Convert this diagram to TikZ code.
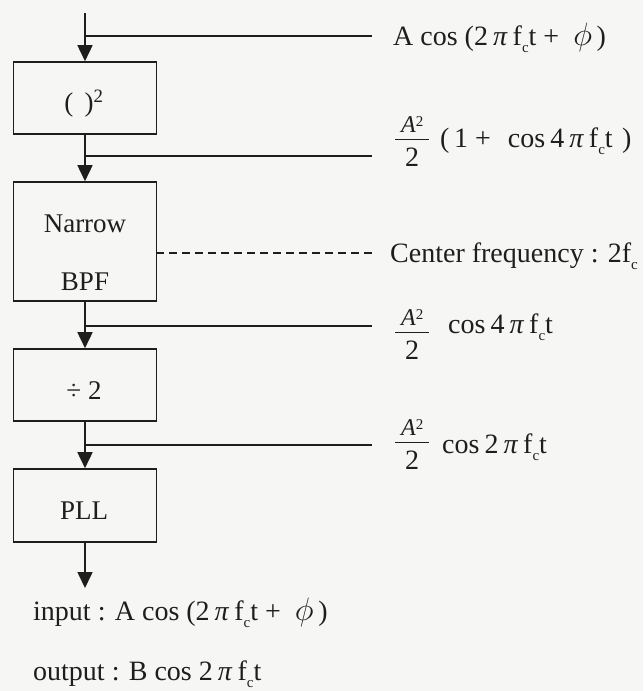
\documentclass[tikz,border=0pt]{standalone}
\usepackage{fontspec}
\setmainfont{Liberation Serif}
\usetikzlibrary{arrows.meta}

\definecolor{paper}{RGB}{246,246,244}
\definecolor{ink}{RGB}{30,30,30}

% symbols used in the signal labels
\newcommand\tsp{\hspace{5pt}}
\newcommand\gpi{\textit{π}}
\newcommand\gphi{\scalebox{1.3}{$\phi$}}
\newcommand\fcsub{f\raisebox{-0.55ex}{\fontsize{15}{15}\selectfont c}}
% A^2 / 2 ; the argument is the height of the bar above the baseline
\newcommand\fracA[1]{\raisebox{#1}{%
  \rlap{\raisebox{7pt}{\makebox[34pt]{\fontsize{24}{24}\selectfont\textit{A}\raisebox{6pt}{\fontsize{15}{15}\selectfont 2}}}}%
  \rlap{\raisebox{-0.5pt}{\rule{34pt}{1pt}}}%
  \raisebox{-27pt}{\makebox[34pt]{2}}}}

\begin{document}
\begin{tikzpicture}[x=1pt,y=-1pt,
  wire/.style={line width=1.6pt, draw=ink},
  flow/.style={wire, -{Triangle[length=16pt,width=15pt]}},
  block/.style={draw=ink, line width=1.6pt, minimum width=143pt, inner sep=0pt},
  lbl/.style={font=\fontsize{27}{30}\selectfont, text=ink, inner sep=0pt},
  sig/.style={font=\fontsize{28}{32}\selectfont, text=ink, inner sep=0pt, anchor=base west},
]
\fill[paper] (0,0) rectangle (643,691);
\useasboundingbox (0,0) rectangle (643,691);

% processing chain
\node[block, minimum height=72pt]  (b1) at (85,98) {};
\node[block, minimum height=119pt] (b2) at (85,241.5) {};
\node[block, minimum height=72pt]  (b3) at (85,385) {};
\node[block, minimum height=73pt]  (b4) at (85,505.5) {};

\node[lbl] (l1)  at (84,104) {(\,\ )\textsuperscript{2}};
\node[lbl] (l2a) at (85,224) {Narrow};
\node[lbl] (l2b) at (85,282) {BPF};
\node[lbl] (l3)  at (84,391) {÷ 2};
\node[lbl] (l4)  at (84,511) {PLL};

% tap points and line ends
\coordinate (top) at (85,13);
\coordinate (j1) at (85,36);  \coordinate (e1) at (372,36);
\coordinate (j2) at (85,156); \coordinate (e2) at (372,156);
\coordinate (j3) at (85,326); \coordinate (e3) at (372,326);
\coordinate (j4) at (85,445); \coordinate (e4) at (372,445);
\coordinate (d0) at (156,253); \coordinate (d1) at (372,253);
\coordinate (out) at (85,588);

\draw[flow] (top) -- (b1.north);
\draw[flow] (b1.south) -- (b2.north);
\draw[flow] (b2.south) -- (b3.north);
\draw[flow] (b3.south) -- (b4.north);
\draw[flow] (b4.south) -- (out);

\draw[wire] (j1) -- (e1);
\draw[wire] (j2) -- (e2);
\draw[wire] (j3) -- (e3);
\draw[wire] (j4) -- (e4);
\draw[wire, line width=1.4pt, dash pattern=on 8pt off 5pt] (d0) -- (d1);

% signal descriptions
\node[sig] (t1) at (393,45)  {A cos (2\tsp\gpi\tsp\fcsub t +\ \ \gphi\,)};
\node[sig] (t2) at (395,147) {\fracA{8pt}\hspace{11pt}(\,1 +\hspace{17pt}cos\tsp4\tsp\gpi\tsp\fcsub t\,\,)};
\node[sig] (t3) at (390,262) {Center frequency : 2\fcsub};
\node[sig] (t4) at (395,333) {\fracA{1pt}\hspace{19pt}cos\tsp4\tsp\gpi\tsp\fcsub t};
\node[sig] (t5) at (395,453) {\fracA{11pt}\hspace{13pt}cos\tsp2\tsp\gpi\tsp\fcsub t};

\node[sig] (tin)  at (33,620) {input : A cos (2\tsp\gpi\tsp\fcsub t +\ \ \gphi\,)};
\node[sig] (tout) at (33,680) {output : B cos 2\tsp\gpi\tsp\fcsub t};
\end{tikzpicture}
\end{document}
